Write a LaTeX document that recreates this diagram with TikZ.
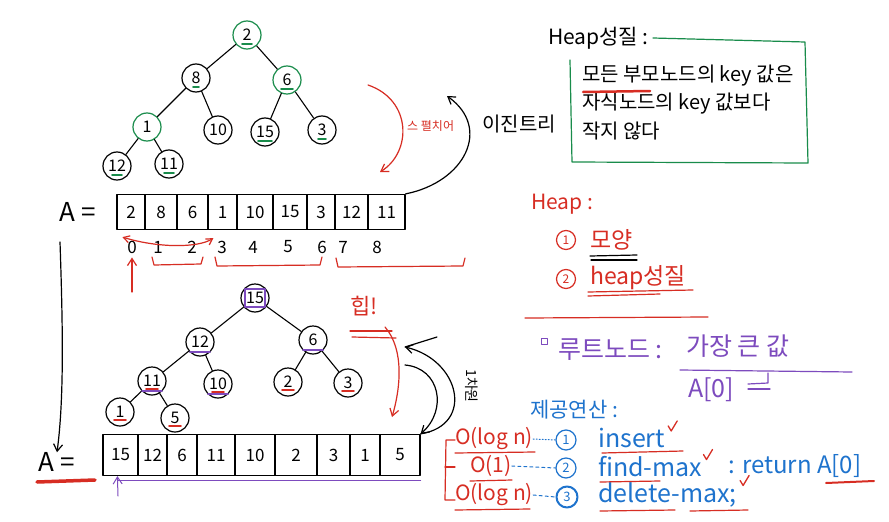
\documentclass[tikz,border=0pt]{standalone}
\usepackage{fontspec}
\setmainfont{Noto Sans CJK KR}
\usetikzlibrary{arrows.meta}
\definecolor{gr}{RGB}{25,140,75}
\definecolor{rd}{RGB}{215,45,35}
\definecolor{pu}{RGB}{125,75,190}
\definecolor{bl}{RGB}{30,115,205}
\newcommand{\fsz}[1]{\fontsize{#1}{#1}\selectfont}
\begin{document}
\begin{tikzpicture}[x=1pt,y=-1pt,line cap=round,line join=round,
  tn/.style={circle,draw,line width=1.2pt,minimum size=28pt,inner sep=0pt,font=\fsz{16}},
  cell/.style={draw,line width=1.2pt,minimum height=35pt,inner sep=0pt,font=\fsz{17}},
  edge/.style={line width=1.1pt},
  idx/.style={font=\fsz{17},inner sep=0pt},
  ink/.style={line width=1.2pt},
  tip/.style={-{Straight Barb[length=7pt,width=9pt]}},
  chk/.style={rd,line width=1.3pt},
  gul/.style={gr,line width=1.8pt},
  rul/.style={rd,line width=1.6pt},
  pul/.style={pu,line width=1.6pt},
  txt/.style={inner sep=0pt,anchor=west}]
\useasboundingbox[fill=white] (0,0) rectangle (889,522);

% ---------- top tree ----------
\node[tn,draw=gr] (t0) at (247,35) {2};
\node[tn] (t1) at (196,78) {8};
\node[tn,draw=gr] (t2) at (287,80) {6};
\node[tn,draw=gr] (t3) at (147,127) {1};
\node[tn] (t4) at (218,130) {10};
\node[tn] (t5) at (265,132) {15};
\node[tn] (t6) at (322,130) {3};
\node[tn] (t7) at (117,166) {12};
\node[tn] (t8) at (169,164) {11};
\foreach \a/\b in {t0/t1,t0/t2,t1/t3,t1/t4,t2/t5,t2/t6,t3/t7,t3/t8}
  \draw[edge] (\a) -- (\b);
\foreach \n/\w in {t0/5,t1/3,t2/6,t5/7,t6/4,t7/5,t8/5}
  \draw[gul] ([xshift=-\w pt,yshift=-9pt]\n.center) -- ([xshift=\w pt,yshift=-9pt]\n.center);

% ---------- top array ----------
\node[font=\fsz{26},inner sep=0pt] (tA) at (78,212) {A =};
\foreach \l/\r/\v [count=\i from 0] in {117/145/2,145/177/8,177/208/6,208/237/1,237/273/10,273/307/15,307/335/3,335/368/12,368/405/11}
  \node[cell,minimum width={(\r-\l)*1pt}] (ta\i) at ({(\l+\r)/2},212) {\v};
\foreach \x/\v [count=\i from 0] in {132/0,158/1,192/2,222/3,253/4,288/5,322/6,343/7,377/8}
  \node[idx] (i\i) at (\x,247) {\v};
\draw[rd,ink] (152,257) -- (154,265) -- (201,264) -- (203,257);
\draw[rd,ink] (215,257) -- (217,266) -- (320,265) -- (322,257);
\draw[rd,ink] (336,258) -- (338,267) -- (463,266) -- (465,258);
\coordinate (up0) at (132,292);
\draw[rd,ink,tip] (up0) -- ([yshift=-4pt]i0.south);
\draw[rd,ink,{Straight Barb[length=6pt,width=7pt]}-{Straight Barb[length=6pt,width=7pt]}] ([xshift=6pt,yshift=-7pt]ta0.south west) .. controls (158,248) and (198,248) .. ([xshift=6pt,yshift=-8pt]ta3.south west);
% binary-tree arrow
\coordinate (btE) at (447,96);
\draw[ink,tip] (ta8.north east) .. controls (465,182) and (492,128) .. (btE);
\node[font=\fsz{20},txt] (bt) at (482,124) {이진트리};
% red spread arrow
\coordinate (rsA) at (368,85);
\coordinate (rsB) at (380,172);
\draw[rd,ink,tip] (rsA) .. controls (412,100) and (412,152) .. (rsB);
\node[rd,font=\fsz{12},txt] (rs) at (407,126) {스 펼치어};

% ---------- heap property box ----------
\node[font=\fsz{21},txt] (hp) at (548,38) {Heap성질 :};
\draw[gr,ink] (hp.east) ++(4,0) -- (805,42) -- (808,163) -- (572,162) -- (570,60);
\node[font=\fsz{20},txt] (hp1) at (582,76) {모든 부모노드의 key 값은};
\node[font=\fsz{20},txt] (hp2) at (582,104) {자식노드의 key 값보다};
\node[font=\fsz{20},txt] (hp3) at (582,131) {작지 않다};
\draw[rd,line width=2.5pt] (583,92) -- (650,91);

% ---------- Heap: ----------
\node[rd,font=\fsz{21},txt] (hh) at (531,204) {Heap :};
\node[rd,circle,draw,ink,inner sep=0pt,minimum size=19pt,font=\fsz{12}] (c1) at (566,240) {1};
\node[rd,font=\fsz{23},txt] (sh) at (590,240) {모양};
\node[rd,circle,draw,ink,inner sep=0pt,minimum size=19pt,font=\fsz{12}] (c2) at (566,279) {2};
\node[rd,font=\fsz{23},txt] (hpr) at (590,278) {heap성질};
\draw[ink] (590,256) -- (637,255);
\draw[ink] (591,260) -- (637,260);
\draw[rd,ink] (588,292) -- (693,290);
\draw[rd,ink] (588,296) -- (660,294);
\draw[rd,ink] (525,318) -- (708,317);

% ---------- root node ----------
\node[pu,draw,line width=0.9pt,minimum size=6pt,inner sep=0pt] (sq) at (544,341) {};
\node[pu,font=\fsz{25},txt] (rt) at (558,350) {루트노드 :};
\node[pu,font=\fsz{25},txt] (mx) at (686,346) {가장 큰 값};
\draw[pu,ink] (680,370) -- (852,372);
\node[pu,font=\fsz{25},txt] (a0) at (688,390) {A[0]};
\draw[pu,ink] (748,384) -- (768,383) -- (768,373);
\draw[pu,ink] (748,389) -- (770,389);

% ---------- operations ----------
\node[bl,font=\fsz{21},txt] (op) at (530,410) {제공연산 :};
\node[bl,circle,draw,ink,inner sep=0pt,minimum size=20pt,font=\fsz{13}] (o1) at (566,440) {1};
\node[bl,circle,draw,ink,inner sep=0pt,minimum size=20pt,font=\fsz{13}] (o2) at (566,468) {2};
\node[bl,circle,draw,line width=2pt,inner sep=0pt,minimum size=21pt,font=\fsz{13}] (o3) at (567,497) {3};
\node[bl,font=\fsz{25},txt] (ins) at (598,438) {insert};
\node[bl,font=\fsz{25},txt] (fm) at (598,467) {find-max};
\node[bl,font=\fsz{24},txt] (ret) at (728,466) {: return A[0]};
\node[bl,font=\fsz{25},txt] (dm) at (598,495) {delete-max;};
\draw[rd,ink] (602,453) -- (683,451);
\draw[rd,ink] (600,482) -- (660,481);
\draw[rd,ink] (600,511) -- (675,510);
\draw[rd,ink] (690,511) -- (748,510);
\draw[rd,line width=2pt] (826,483) -- (874,481);
\draw[chk] ([xshift=3pt,yshift=2pt]ins.north east) -- ++(3,5) -- ++(6,-10);
\draw[chk] ([xshift=1pt,yshift=2pt]fm.north east) -- ++(3,5) -- ++(6,-10);
\draw[chk] ([xshift=3pt,yshift=2pt]dm.north east) -- ++(3,5) -- ++(6,-10);
\node[rd,font=\fsz{21},txt] (g1) at (455,439) {O(log n)};
\node[rd,font=\fsz{21},txt] (g2) at (470,466) {O(1)};
\node[rd,font=\fsz{21},txt] (g3) at (455,495) {O(log n)};
\draw[rd,ink] (455,453) -- (535,452);
\draw[rd,ink] (470,481) -- (512,480);
\draw[rd,ink] (455,510) -- (530,509);
\draw[rd,ink] (455,440) -- (446,440) -- (445,500) -- (455,500);
\draw[rd,ink] (445,467) -- (455,467);
\draw[bl,dotted,line width=1pt] (g1.east) -- (o1.west);
\draw[bl,dash pattern=on 3pt off 3pt,line width=1pt] (g2.east) -- (o2.west);
\draw[bl,dash pattern=on 3pt off 3pt,line width=1pt] (g3.east) -- (o3.west);

% ---------- bottom tree ----------
\node[tn] (b0) at (255,298) {15};
\node[tn] (b1) at (200,342) {12};
\node[tn] (b2) at (313,340) {6};
\node[tn] (b3) at (152,381) {11};
\node[tn] (b4) at (218,384) {10};
\node[tn] (b5) at (288,382) {2};
\node[tn] (b6) at (348,383) {3};
\node[tn] (b7) at (120,412) {1};
\node[tn] (b8) at (175,418) {5};
\foreach \a/\b in {b0/b1,b0/b2,b1/b3,b1/b4,b2/b5,b2/b6,b3/b7,b3/b8}
  \draw[edge] (\a) -- (\b);
\draw[pu,line width=1.1pt] ([xshift=-10pt,yshift=-9pt]b0.center) rectangle ([xshift=10pt,yshift=9pt]b0.center);
\foreach \n in {b1,b2,b3,b4}
  \draw[pul] ([xshift=-10pt,yshift=-10pt]\n.center) -- ([xshift=10pt,yshift=-10pt]\n.center);
\foreach \n in {b3,b4,b5,b6,b7,b8}
  \draw[rul] ([xshift=-6pt,yshift=-8pt]\n.center) -- ([xshift=6pt,yshift=-8pt]\n.center);

% ---------- bottom array ----------
\node[font=\fsz{26},inner sep=0pt] (bA) at (57,462) {A =};
\draw[rd,line width=3.5pt] (37,482) -- (95,480);
\foreach \l/\r/\v [count=\i from 0] in {103/138/15,138/167/12,167/197/6,197/235/11,235/275/10,275/317/2,317/350/3,350/380/1,380/420/5}
  \node[cell,minimum width={(\r-\l)*1pt},minimum height=41pt] (ba\i) at ({(\l+\r)/2},455) {\v};
\coordinate (pu0) at (118,496);
\draw[pu,line width=1pt,tip] (pu0) -- ([xshift=15pt]ba0.south west);
\draw[pu,line width=1pt] ([xshift=15pt,yshift=-4pt]ba0.south west) -- ([yshift=-4pt]ba8.south east);
% long down arrow
\coordinate (dA) at (60,242);
\draw[ink,tip] (dA) .. controls (63,330) and (64,400) .. (bA.north);
% heap! label and arrow
\node[rd,font=\fsz{22},txt] (hb) at (350,306) {힙!};
\draw[rd,ink] (350,331) -- (392,331);
\draw[rd,ink] (352,337) -- (396,338);
\coordinate (hbE) at (392,417);
\draw[rd,ink,tip] (385,327) .. controls (405,350) and (400,390) .. (hbE);
% 1-dim arrows
\coordinate (d1a) at (405,347);
\coordinate (d1b) at (405,365);
\draw[ink,tip] (ba8.north east) .. controls (475,425) and (460,360) .. (d1a);
\draw[ink] (d1a) -- (437,337);
\draw[ink,tip] (d1b) .. controls (440,368) and (448,410) .. (ba8.north east);
\node[font=\fsz{14},rotate=-90] (od) at (472,386) {1차원};
\end{tikzpicture}
\end{document}
